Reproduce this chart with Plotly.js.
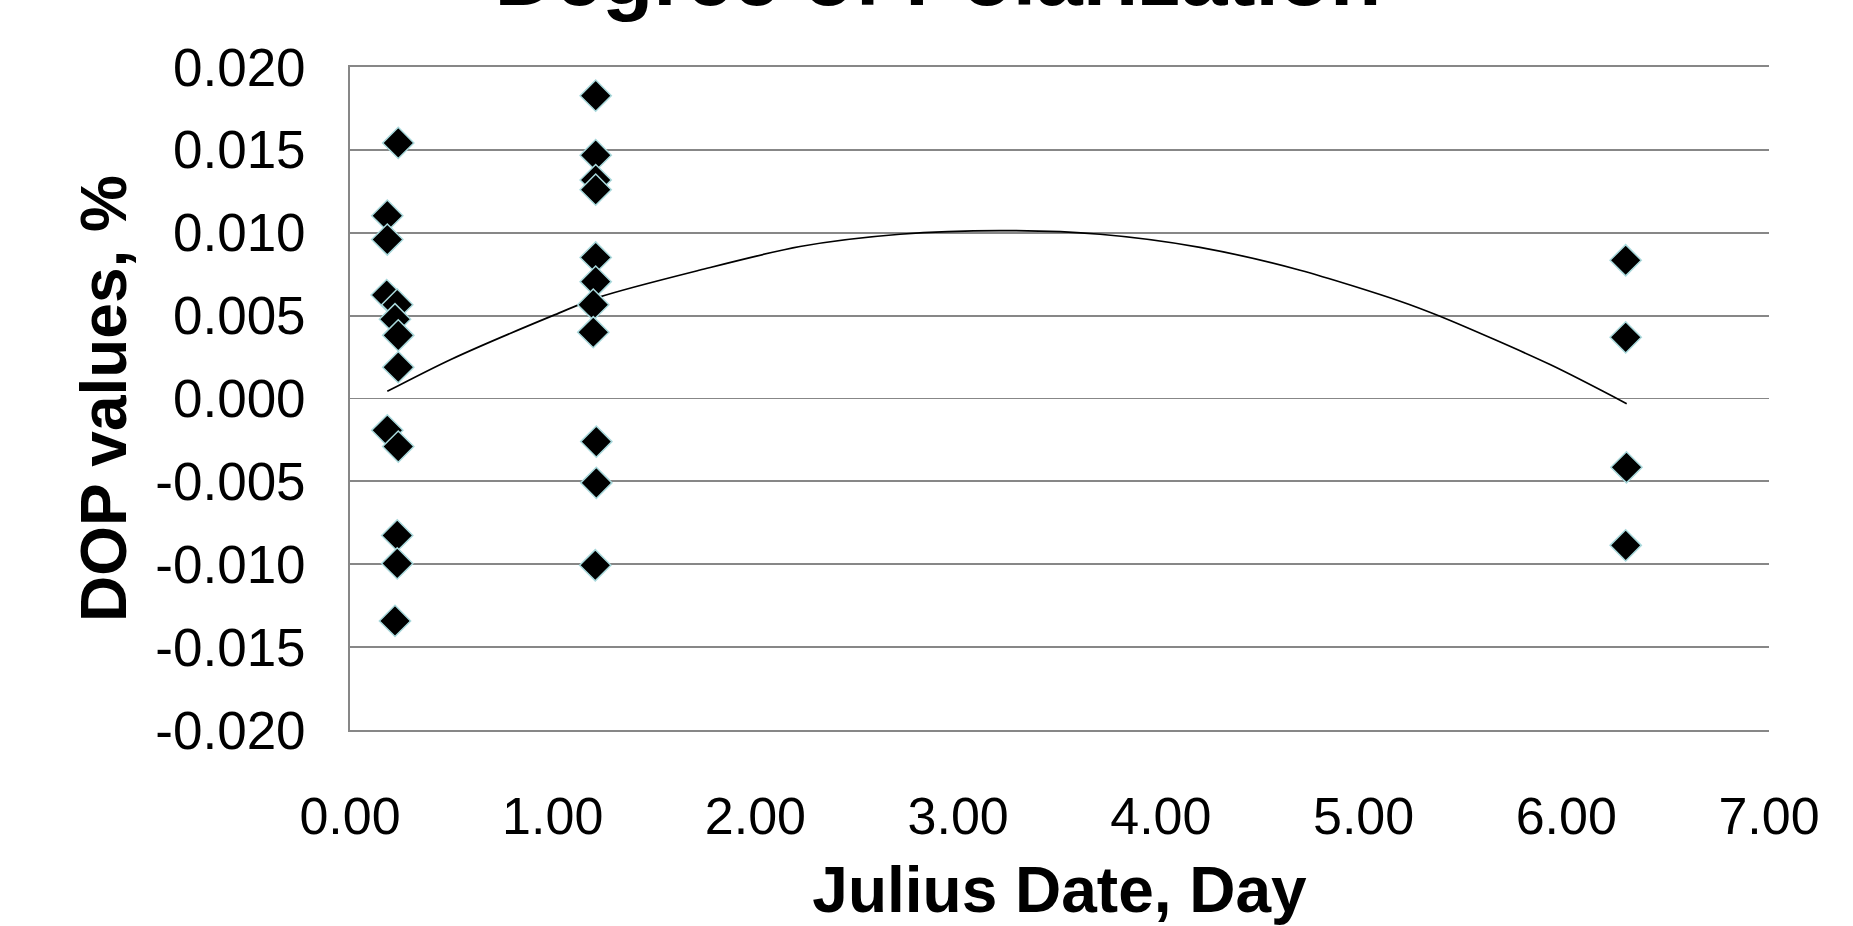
<!DOCTYPE html>
<html>
<head>
<meta charset="utf-8">
<script src="https://cdn.plot.ly/plotly-3.0.1.min.js"></script>
<style>html,body{margin:0;padding:0;background:#fff;}#chart{width:1853px;height:926px;}</style>
</head>
<body>
<div id="chart"></div>
<script>
const dayX = [
  0.238, 0.184, 0.184, 0.181, 0.233, 0.222, 0.238, 0.238, 0.184, 0.238, 0.233, 0.233, 0.222,
  1.212, 1.212, 1.212, 1.212, 1.212, 1.212, 1.200, 1.200, 1.215, 1.215, 1.210,
  6.293, 6.293, 6.297, 6.293
];
const dopY = [
  0.01542, 0.01103, 0.00959, 0.00624, 0.00566, 0.00478, 0.00381, 0.00189, -0.00192, -0.00290, -0.00826, -0.00995, -0.01342,
  0.01827, 0.01468, 0.01318, 0.01260, 0.00851, 0.00705, 0.00566, 0.00400, -0.00260, -0.00509, -0.01006,
  0.00834, 0.00369, -0.00415, -0.00886
];
// Polynomial trend line
const trendX = [0.184, 0.50, 1.00, 1.233, 1.727, 2.22, 2.713, 3.207, 3.70, 4.193, 4.687, 5.18, 5.377, 5.92, 6.298];
const trendY = [0.00043, 0.00237, 0.00500, 0.00613, 0.00775, 0.00917, 0.00991, 0.01013, 0.00991, 0.00912, 0.00774, 0.00587, 0.00496, 0.00205, -0.00031];
const yTicks = [-0.020, -0.015, -0.010, -0.005, 0.000, 0.005, 0.010, 0.015, 0.020];
const xTicks = [0, 1, 2, 3, 4, 5, 6, 7];

const FONT = 'Liberation Sans, Arial, sans-serif';
const GRID = '#878787';

const traces = [
  {
    x: trendX, y: trendY, type: 'scatter', mode: 'lines',
    line: {color: '#000000', width: 1.7, shape: 'spline', smoothing: 0.8},
    hoverinfo: 'skip', showlegend: false
  },
  {
    x: dayX, y: dopY, type: 'scatter', mode: 'markers',
    marker: {symbol: 'diamond', size: 24, color: '#000000', line: {color: '#a9d9dc', width: 1.5}},
    showlegend: false
  }
];

const layout = {
  width: 1853, height: 926,
  paper_bgcolor: '#ffffff', plot_bgcolor: '#ffffff',
  margin: {l: 350, r: 84, t: 67, b: 196},
  font: {family: FONT, color: '#000000', size: 52},
  title: {
    text: 'Degree of Polarization',
    font: {family: FONT, size: 84, weight: 'bold', color: '#000000'},
    x: 938 / 1853, xanchor: 'center', xref: 'container',
    y: (926 - 4.5) / 926, yanchor: 'bottom', yref: 'container'
  },
  xaxis: {
    range: [0, 7], tickvals: xTicks, ticktext: xTicks.map(v => v.toFixed(2)),
    showgrid: false, zeroline: false,
    showline: true, mirror: true, linecolor: GRID, linewidth: 1.8,
    ticks: '', ticklabelstandoff: 40,
    tickfont: {family: FONT, size: 52, color: '#000000'},
    title: {text: 'Julius Date, Day', font: {family: FONT, size: 64, weight: 'bold', color: '#000000'}, standoff: 43}
  },
  yaxis: {
    range: [-0.020, 0.020], tickvals: yTicks, ticktext: yTicks.map(v => v.toFixed(3)),
    showgrid: true, gridcolor: GRID, gridwidth: 1.8,
    zeroline: false, showline: true, linecolor: GRID, linewidth: 1.8,
    ticks: '', ticklabelstandoff: 32,
    tickfont: {family: FONT, size: 53, color: '#000000'},
    title: {text: 'DOP values, %', font: {family: FONT, size: 64, weight: 'bold', color: '#000000'}, standoff: 8}
  }
};

Plotly.newPlot('chart', traces, layout, {displayModeBar: false, staticPlot: true});
</script>
</body>
</html>
